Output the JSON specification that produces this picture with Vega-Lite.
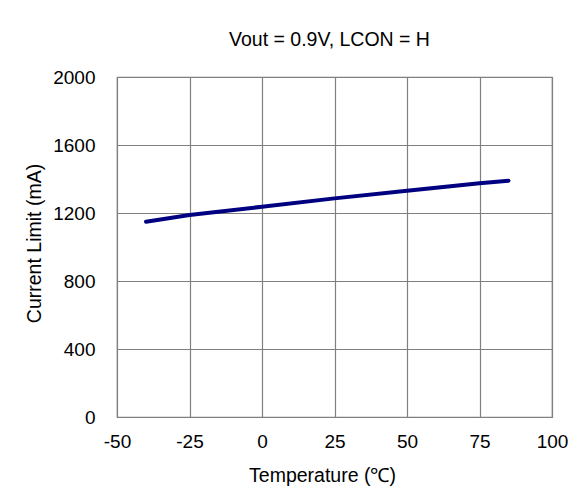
{
  "$schema": "https://vega.github.io/schema/vega-lite/v6.json",
  "autosize": "none",
  "width": 435,
  "height": 340,
  "padding": {"left": 117, "top": 77, "right": 29, "bottom": 82},
  "background": "white",
  "title": {
    "text": "Vout = 0.9V, LCON = H",
    "font": "Liberation Sans",
    "fontSize": 19.5,
    "fontWeight": "normal",
    "color": "#000000",
    "offset": 18,
    "dx": -5
  },
  "data": {
    "values": [
      {"t": -40, "i": 1149},
      {"t": -25, "i": 1188},
      {"t": 0, "i": 1237},
      {"t": 25, "i": 1286},
      {"t": 50, "i": 1331},
      {"t": 75, "i": 1375},
      {"t": 85, "i": 1390}
    ]
  },
  "mark": {"type": "line", "color": "#000080", "strokeWidth": 4, "strokeCap": "round"},
  "encoding": {
    "x": {
      "field": "t",
      "type": "quantitative",
      "scale": {"domain": [-50, 100], "nice": false},
      "axis": {
        "title": "Temperature (℃)",
        "values": [-50, -25, 0, 25, 50, 75, 100],
        "labelExpr": "'' + datum.value",
        "tickSize": 0,
        "labelPadding": 15,
        "titlePadding": 15,
        "titleX": 205,
        "domain": false,
        "labelFlush": false
      }
    },
    "y": {
      "field": "i",
      "type": "quantitative",
      "scale": {"domain": [0, 2000], "nice": false},
      "axis": {
        "title": "Current Limit (mA)",
        "values": [0, 400, 800, 1200, 1600, 2000],
        "labelExpr": "'' + datum.value",
        "tickSize": 0,
        "labelPadding": 22,
        "titlePadding": 8,
        "titleY": 166,
        "domain": false,
        "labelFlush": false
      }
    }
  },
  "config": {
    "view": {"stroke": "#808080", "strokeWidth": 1.2},
    "axis": {
      "grid": true,
      "gridColor": "#808080",
      "gridOpacity": 1,
      "gridWidth": 1.2,
      "labelFont": "Liberation Sans",
      "labelFontSize": 19,
      "labelColor": "#000000",
      "titleFont": "Liberation Sans",
      "titleFontSize": 19.5,
      "titleFontWeight": "normal",
      "titleColor": "#000000"
    }
  }
}
